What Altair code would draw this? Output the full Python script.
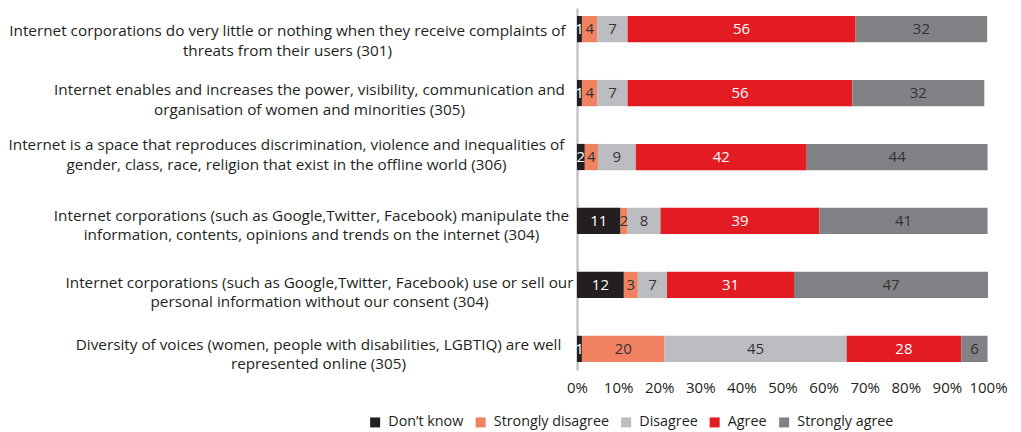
import altair as alt
import pandas as pd

statements = [
    "Internet corporations do very little or nothing when they receive complaints of\nthreats from their users (301)",
    "Internet enables and increases the power, visibility, communication and\norganisation of women and minorities (305)",
    "Internet is a space that reproduces discrimination, violence and inequalities of\ngender, class, race, religion that exist in the offline world (306)",
    "Internet corporations (such as Google,Twitter, Facebook) manipulate the\ninformation, contents, opinions and trends on the internet (304)",
    "Internet corporations (such as Google,Twitter, Facebook) use or sell our\npersonal information without our consent (304)",
    "Diversity of voices (women, people with disabilities, LGBTIQ) are well\nrepresented online (305)",
]
responses = ["Don\u2019t know", "Strongly disagree", "Disagree", "Agree", "Strongly agree"]
colors = ["#231f20", "#f08262", "#bcbdc0", "#e31b23", "#808285"]
text_colors = ["#ffffff", "#333333", "#333333", "#ffffff", "#333333"]

# bar widths (%), per statement in response order
dont_know = [1.2, 1.2, 1.9, 10.6, 11.4, 1.2]
strongly_disagree = [3.8, 3.8, 3.2, 1.7, 3.4, 20.1]
disagree = [7.3, 7.3, 9.2, 8.0, 7.1, 44.3]
agree = [55.5, 54.7, 41.6, 38.7, 30.9, 27.9]
strongly_agree = [32.0, 32.1, 44.0, 40.9, 47.2, 6.4]

# printed labels
lab_dont_know = [1, 1, 2, 11, 12, 1]
lab_strongly_disagree = [4, 4, 4, 2, 3, 20]
lab_disagree = [7, 7, 9, 8, 7, 45]
lab_agree = [56, 56, 42, 39, 31, 28]
lab_strongly_agree = [32, 32, 44, 41, 47, 6]

series = [dont_know, strongly_disagree, disagree, agree, strongly_agree]
labels = [lab_dont_know, lab_strongly_disagree, lab_disagree, lab_agree, lab_strongly_agree]

rows = []
for ri, resp in enumerate(responses):
    for si, st in enumerate(statements):
        rows.append({
            "statement": st,
            "response": resp,
            "order": ri,
            "value": series[ri][si],
            "label": str(labels[ri][si]),
            "tcolor": text_colors[ri],
        })
df = pd.DataFrame(rows)

FONT = "Open Sans"

# label layout (style): horizontal centre distance from axis, vertical nudge
label_pad = [290, 268, 291, 266, 258, 259]
label_off = [2, -3, -12, -5, -2, -4]


def cond(vals, default):
    return {
        "condition": [
            {"test": f"datum.value == {repr(s)}", "value": v}
            for s, v in zip(statements, vals)
        ],
        "value": default,
    }


y_enc = alt.Y(
    "statement:N",
    sort=statements,
    title=None,
    scale=alt.Scale(paddingInner=0.59, paddingOuter=0.125),
    axis=alt.Axis(
        labelAlign="center",
        labelBaseline="middle",
        labelPadding=cond(label_pad, 270),
        labelOffset=cond(label_off, 0),
        labelFont=FONT,
        labelFontSize=15.3,
        labelColor="#231f20",
        labelLineHeight=19.5,
        labelLimit=0,
        ticks=False,
        domain=True,
        domainColor="#c6c6c8",
        domainWidth=2.5,
        grid=False,
        minExtent=569,
        maxExtent=569,
        labelExpr="split(datum.label, '\\n')",
    ),
)

base = alt.Chart(df).transform_stack(
    stack="value",
    as_=["x0", "x1"],
    groupby=["statement"],
    sort=[alt.SortField("order", "ascending")],
).transform_calculate(mid="(datum.x0 + datum.x1) / 2")

bars = base.mark_bar().encode(
    y=y_enc,
    x=alt.X(
        "x0:Q",
        scale=alt.Scale(domain=[0, 100], nice=False),
        title=None,
        axis=alt.Axis(
            values=list(range(0, 101, 10)),
            labelExpr="datum.value + '%'",
            labelFont=FONT,
            labelFontSize=15,
            labelColor="#231f20",
            labelPadding=10,
            labelOverlap=False,
            labelFlush=False,
            domain=False,
            ticks=False,
            grid=False,
        ),
    ),
    x2="x1:Q",
    color=alt.Color(
        "response:N",
        sort=responses,
        scale=alt.Scale(domain=responses, range=colors),
        legend=alt.Legend(
            title=None,
            orient="none",
            direction="horizontal",
            legendX=-209,
            legendY=407,
            symbolType="square",
            symbolSize=100,
            symbolStrokeWidth=0,
            symbolOpacity=1,
            labelFont=FONT,
            labelFontSize=14.3,
            labelColor="#231f20",
            labelOffset=6,
            columnPadding=9.5,
        ),
    ),
    order=alt.Order("order:Q"),
)

text = base.mark_text(font=FONT, fontSize=15, baseline="middle", align="center").encode(
    y=alt.Y("statement:N", sort=statements),
    x=alt.X("mid:Q"),
    text="label:N",
    color=alt.Color("tcolor:N", scale=None),
)

chart = (
    alt.layer(bars, text)
    .properties(width=411, height=362, padding={"left": 0, "top": 0, "right": 5, "bottom": 0})
    .configure_view(stroke=None)
)

chart.save("out.html", embed_options={"renderer": "svg", "actions": False})
